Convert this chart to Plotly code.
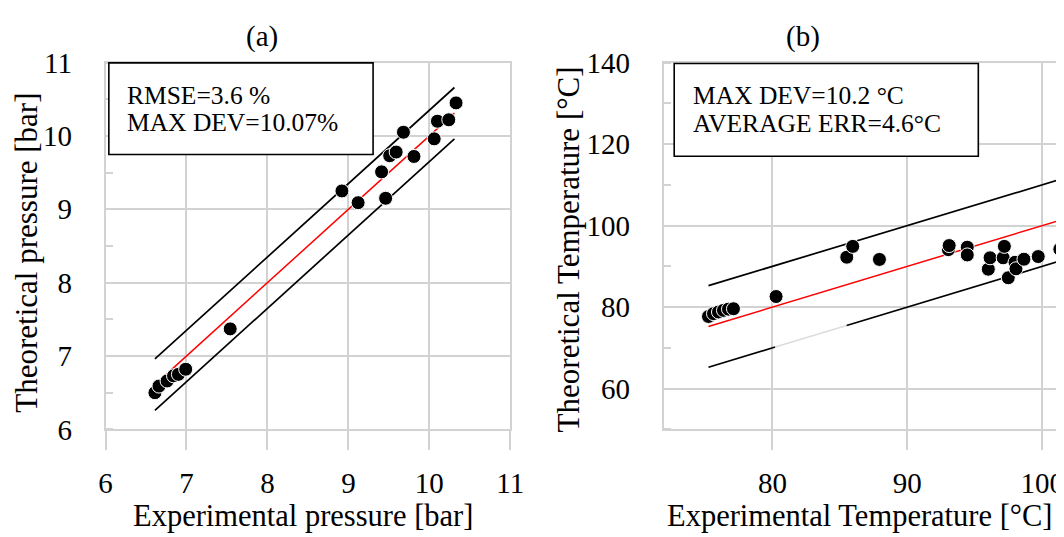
import plotly.graph_objects as go

# ---------------- data ----------------
# (a) pressure
exp_p = [6.61, 6.66, 6.76, 6.84, 6.90, 6.99, 7.54, 8.92, 9.12, 9.41, 9.46, 9.51, 9.59,
         9.68, 9.81, 10.06, 10.10, 10.24, 10.33]
th_p = [6.50, 6.59, 6.66, 6.73, 6.75, 6.82, 7.37, 9.25, 9.09, 9.51, 9.15, 9.73, 9.78,
        10.05, 9.72, 9.96, 10.20, 10.22, 10.45]
fit_x_a = [6.61, 10.31]
band_a = 0.35

# (b) temperature
exp_t = [75.26, 75.63, 76.0, 76.37, 76.74, 77.11, 80.27, 85.51, 85.95, 87.93, 93.04, 93.1,
         94.44, 94.44, 96.0, 96.13, 97.1, 97.19, 97.48, 97.98, 98.05, 98.64, 99.7, 101.3]
th_t = [77.7, 78.4, 78.8, 79.2, 79.5, 79.6, 82.6, 92.25, 94.9, 91.7, 94.1, 95.1,
        94.7, 92.8, 89.3, 92.1, 92.1, 94.9, 87.2, 91.0, 89.4, 91.75, 92.4, 94.2]
fit_x_b = [75.26, 104.0]
band_b = 10.0
lower_b_faded = [80.2, 85.5]   # faint stretch of the lower band line

ticks_a = [6, 7, 8, 9, 10, 11]
xticks_b = [80, 90, 100]
yticks_b = [60, 80, 100, 120, 140]

box_a_lines = ["RMSE=3.6 %", "MAX DEV=10.07%"]
box_b_lines = ["MAX DEV=10.2 °C", "AVERAGE ERR=4.6°C"]

W, H = 1072, 545
FONT = "Liberation Serif"
GRID = "#d2d2d2"

# target picture pixel -> figure pixel
AX, BX = 0.981, 14.4
AY, BY = 0.945, 23.0


def px(x):
    return ((x - BX) / AX) / W


def py(y):
    return 1 - ((y - BY) / AY) / H


fig = go.Figure()
BLK = dict(color="black", width=1.7)
RED = dict(color="#ff0000", width=1.5)
MK = dict(color="black", size=14, line=dict(color="white", width=1))

# (a)
fig.add_trace(go.Scatter(x=fit_x_a, y=[v + band_a for v in fit_x_a], mode="lines",
                         line=BLK, xaxis="x", yaxis="y"))
fig.add_trace(go.Scatter(x=fit_x_a, y=[v - band_a for v in fit_x_a], mode="lines",
                         line=BLK, xaxis="x", yaxis="y"))
fig.add_trace(go.Scatter(x=fit_x_a, y=fit_x_a, mode="lines", line=RED, xaxis="x", yaxis="y"))
fig.add_trace(go.Scatter(x=exp_p, y=th_p, mode="markers", marker=MK, xaxis="x", yaxis="y"))

# (b)
fig.add_trace(go.Scatter(x=fit_x_b, y=[v + band_b for v in fit_x_b], mode="lines",
                         line=BLK, xaxis="x2", yaxis="y2"))
low_x1 = [fit_x_b[0], lower_b_faded[0]]
low_x2 = [lower_b_faded[1], fit_x_b[1]]
fig.add_trace(go.Scatter(x=low_x1, y=[v - band_b for v in low_x1], mode="lines",
                         line=BLK, xaxis="x2", yaxis="y2"))
fig.add_trace(go.Scatter(x=lower_b_faded, y=[v - band_b for v in lower_b_faded], mode="lines",
                         line=dict(color="#dcdcdc", width=1.5), xaxis="x2", yaxis="y2"))
fig.add_trace(go.Scatter(x=low_x2, y=[v - band_b for v in low_x2], mode="lines",
                         line=BLK, xaxis="x2", yaxis="y2"))
fig.add_trace(go.Scatter(x=fit_x_b, y=fit_x_b, mode="lines", line=RED, xaxis="x2", yaxis="y2"))
fig.add_trace(go.Scatter(x=exp_t, y=th_t, mode="markers", marker=MK, xaxis="x2", yaxis="y2"))

ydom = [py(430), py(61.7)]
tickfont = dict(family=FONT, size=29, color="black")

common_x = dict(showgrid=True, gridcolor=GRID, gridwidth=1.5, showline=True,
                linecolor=GRID, linewidth=1.5, ticks="outside", ticklen=19,
                tickcolor=GRID, tickwidth=1.5, tickfont=tickfont,
                ticklabelstandoff=8, zeroline=False)
common_y = dict(showgrid=True, gridcolor=GRID, gridwidth=1.5, showline=True,
                linecolor=GRID, linewidth=1.5, ticks="outside", ticklen=26,
                tickcolor="rgba(0,0,0,0)", tickfont=tickfont, zeroline=False)

# x range of (b): left edge at picture px 663.3, 135 px per 10 degC, 80 at 772.3
x2_left = 80 + (663.3 - 772.3) / 13.5
x2_right = 80 + (AX * W + BX - 772.3) / 13.5

fig.update_layout(
    width=W, height=H, margin=dict(l=0, r=0, t=0, b=0),
    plot_bgcolor="white", paper_bgcolor="white", showlegend=False,
    font=dict(family=FONT, color="black"),
    xaxis=dict(domain=[px(105), px(510)], range=[6, 11], tickvals=ticks_a,
               mirror=True, anchor="y", **common_x),
    yaxis=dict(domain=ydom, range=[6, 11], tickvals=ticks_a, mirror=True, anchor="x",
               minor=dict(dtick=0.5, tick0=6, ticks="inside", ticklen=8,
                          tickcolor=GRID, tickwidth=1.5, showgrid=False),
               **common_y),
    xaxis2=dict(domain=[px(663.3), 1.0], range=[x2_left, x2_right], tickvals=xticks_b,
                mirror=True, anchor="y2", **common_x),
    yaxis2=dict(domain=ydom, range=[50, 140], tickvals=yticks_b, anchor="x2",
                minor=dict(dtick=10, tick0=50, ticks="inside", ticklen=8,
                           tickcolor=GRID, tickwidth=1.5, showgrid=False),
                **common_y),
)

# text boxes
fig.add_shape(type="rect", xref="paper", yref="paper",
              x0=px(108.3), x1=px(372.7), y0=py(154), y1=py(62),
              line=dict(color="black", width=1.6), fillcolor="white")
fig.add_shape(type="rect", xref="paper", yref="paper",
              x0=px(674), x1=px(978.3), y0=py(155.7), y1=py(62.7),
              line=dict(color="black", width=1.6), fillcolor="white")

annots = [
    dict(text=box_a_lines[0], x=px(125), y=py(95), xanchor="left", yanchor="middle",
         font=dict(size=25.5)),
    dict(text=box_a_lines[1], x=px(125), y=py(122), xanchor="left", yanchor="middle",
         font=dict(size=25.5)),
    dict(text=box_b_lines[0], x=px(692), y=py(95), xanchor="left", yanchor="middle",
         font=dict(size=25.5)),
    dict(text=box_b_lines[1], x=px(692), y=py(123), xanchor="left", yanchor="middle",
         font=dict(size=25.5)),
    dict(text="(a)", x=px(262), y=1 - 13 / H, xanchor="center", yanchor="middle",
         font=dict(size=29)),
    dict(text="(b)", x=px(803), y=1 - 13 / H, xanchor="center", yanchor="middle",
         font=dict(size=29)),
    dict(text="Experimental pressure [bar]", x=px(303), y=py(517), xanchor="center",
         yanchor="middle", font=dict(size=30.5)),
    dict(text="Experimental Temperature [°C]", x=px(860), y=py(517), xanchor="center",
         yanchor="middle", font=dict(size=30.5)),
    dict(text="Theoretical pressure [bar]", x=px(26), y=py(253), xanchor="center",
         yanchor="middle", textangle=-90, font=dict(size=31)),
    dict(text="Theoretical Temperature [°C]", x=px(568), y=py(249), xanchor="center",
         yanchor="middle", textangle=-90, font=dict(size=31)),
]
for a in annots:
    a.update(xref="paper", yref="paper", showarrow=False, borderpad=0)
    a["font"] = dict(family=FONT, color="black", **a["font"])
    fig.add_annotation(**a)

fig.write_html("out.html")
